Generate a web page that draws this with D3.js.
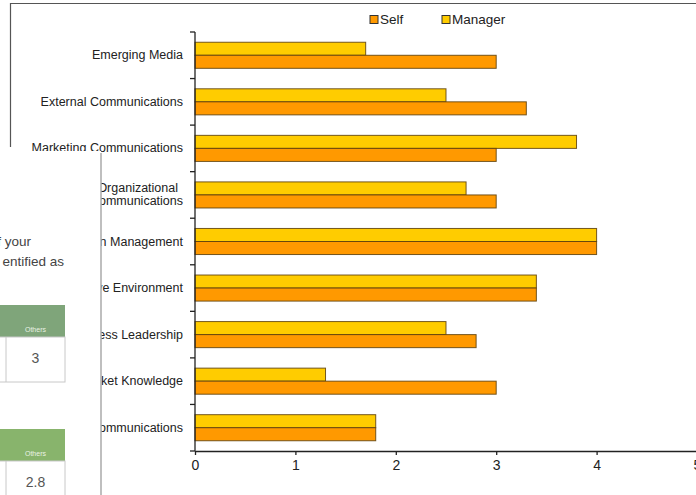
<!DOCTYPE html>
<html><head><meta charset="utf-8">
<script src="https://cdn.jsdelivr.net/npm/d3@7/dist/d3.min.js"></script>
<style>body{margin:0;background:#fff;}svg{display:block;font-family:"Liberation Sans",Arial,sans-serif;}</style>
</head><body>
<svg id="c" width="696" height="495"></svg>
<script>
const categories = ["Emerging Media","External Communications","Marketing Communications","Organizational Communications","Reputation Management","Competitive Environment","Business Leadership","Market Knowledge","Internal Communications"];
const selfValues = [3.0,3.3,3.0,3.0,4.0,3.4,2.8,3.0,1.8];
const managerValues = [1.7,2.5,3.8,2.7,4.0,3.4,2.5,1.3,1.8];
const seriesNames = ["Self","Manager"];
const xTicks = [0,1,2,3,4,5];
const overlayText = ["f your","entified as"];
const overlayHeader = "Others";
const overlayValues = ["3","2.8"];

const svg = d3.select("#c");
const colors = {Self:"#FF9900", Manager:"#FFCC00"};

// chart frame
svg.append("path").attr("d","M10.5,147 L10.5,3.5 L700,3.5").attr("fill","none").attr("stroke","#555").attr("stroke-width",1.2);

const x = d3.scaleLinear().domain([0,5]).range([195,697]);
const y = d3.scaleBand().domain(categories).range([32,451]).paddingInner(0.44).paddingOuter(0.22);
const sub = d3.scaleBand().domain(["Manager","Self"]).range([0,y.bandwidth()]);

const g = svg.append("g");
categories.forEach((c,i)=>{
  const rows = [{s:"Manager",v:managerValues[i]},{s:"Self",v:selfValues[i]}];
  rows.forEach(r=>{
    g.append("rect").attr("x",x(0)).attr("y",y(c)+sub(r.s)).attr("width",x(r.v)-x(0)).attr("height",sub.bandwidth())
     .attr("fill",colors[r.s]).attr("stroke","#5a3e0c").attr("stroke-width",1).attr("stroke-opacity",0.85);
  });
});

// y axis
const yAxis = svg.append("g");
yAxis.append("line").attr("x1",x(0)).attr("x2",x(0)).attr("y1",32).attr("y2",451).attr("stroke","#222").attr("stroke-width",1.3);
const bounds = categories.map(c=>y(c)-y.step()*y.paddingInner()/2).concat([451]);
bounds.forEach(b=>yAxis.append("line").attr("x1",x(0)-5).attr("x2",x(0)).attr("y1",b).attr("y2",b).attr("stroke","#222").attr("stroke-width",1.3));
categories.forEach(c=>{
  const cy = y(c)+y.bandwidth()/2;
  if (c==="Organizational Communications"){
    const t = yAxis.append("text").attr("x",183).attr("text-anchor","end").attr("font-size",12.5).attr("fill","#222");
    t.append("tspan").attr("x",178).attr("y",cy-3).text("Organizational");
    t.append("tspan").attr("x",183).attr("y",cy+10.5).text("Communications");
  } else {
    yAxis.append("text").attr("x",183).attr("y",cy+4).attr("text-anchor","end").attr("font-size",12.5).attr("fill","#222").text(c);
  }
});

// x axis
const xa = svg.append("g").attr("transform","translate(0,451)")
  .call(d3.axisBottom(x).tickValues(xTicks).tickFormat(d3.format("d")).tickSize(4).tickSizeOuter(0));
xa.select(".domain").attr("stroke","#222").attr("stroke-width",1.3);
xa.selectAll(".tick line").attr("stroke","#222").attr("stroke-width",1.3);
xa.selectAll(".tick text").attr("font-size",14).attr("fill","#222").attr("font-family","Liberation Sans, Arial, sans-serif").attr("dy","0.85em");

// legend
const leg = svg.append("g");
[{s:"Self",x:370},{s:"Manager",x:442}].forEach(l=>{
  leg.append("rect").attr("x",l.x).attr("y",15.5).attr("width",8).attr("height",8).attr("fill",colors[l.s]).attr("stroke","#333").attr("stroke-width",1);
  leg.append("text").attr("x",l.x+10).attr("y",24).attr("font-size",13.5).attr("fill","#222").text(l.s);
});

// overlay panel (another window covering the left part)
const ov = svg.append("g");
ov.append("rect").attr("x",0).attr("y",151).attr("width",101).attr("height",344).attr("fill","#fff");
ov.append("line").attr("x1",101).attr("x2",101).attr("y1",153).attr("y2",495).attr("stroke","#aaa").attr("stroke-width",1.5);
ov.append("text").attr("x",31).attr("y",246).attr("text-anchor","end").attr("font-size",13.5).attr("fill","#444").text(overlayText[0]);
ov.append("text").attr("x",64).attr("y",266).attr("text-anchor","end").attr("font-size",13.5).attr("fill","#444").text(overlayText[1]);
const tables = [{top:305, head:"#7FA57A", val:overlayValues[0]},{top:429, head:"#88B46C", val:overlayValues[1]}];
tables.forEach(t=>{
  ov.append("rect").attr("x",-2).attr("y",t.top).attr("width",67).attr("height",32).attr("fill",t.head);
  ov.append("text").attr("x",35.5).attr("y",t.top+27).attr("text-anchor","middle").attr("font-size",7).attr("fill","#e8f2e4").text(overlayHeader);
  ov.append("rect").attr("x",-2).attr("y",t.top+32).attr("width",67).attr("height",45).attr("fill","#fff").attr("stroke","#c8c8c8").attr("stroke-width",1);
  ov.append("line").attr("x1",6).attr("x2",6).attr("y1",t.top+32).attr("y2",t.top+77).attr("stroke","#c8c8c8");
  ov.append("text").attr("x",35.5).attr("y",t.top+58).attr("text-anchor","middle").attr("font-size",14).attr("fill","#555").text(t.val);
});
</script>
</body></html>
